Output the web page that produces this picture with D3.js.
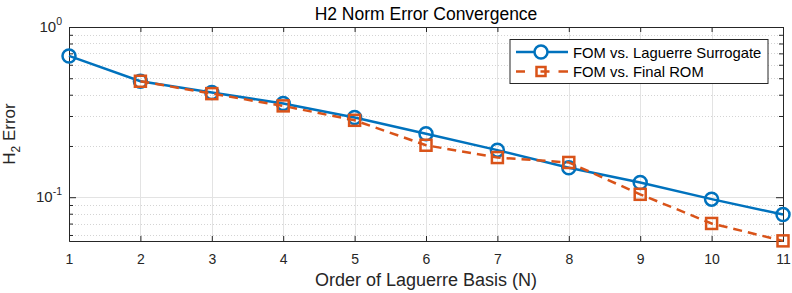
<!DOCTYPE html>
<html>
<head>
<meta charset="utf-8">
<script src="https://cdn.jsdelivr.net/npm/d3@7"></script>
<style>
  body { margin: 0; background: #fff; }
  svg { font-family: "Liberation Sans", Arial, sans-serif; }
</style>
</head>
<body>
<div id="chart"></div>
<script>
var orders = [1, 2, 3, 4, 5, 6, 7, 8, 9, 10, 11];
var surrogateErr = [0.676, 0.480, 0.412, 0.355, 0.294, 0.236, 0.189, 0.149, 0.122, 0.0974, 0.0791];
var romOrders = [2, 3, 4, 5, 6, 7, 8, 9, 10, 11];
var romErr = [0.480, 0.406, 0.344, 0.283, 0.202, 0.171, 0.160, 0.104, 0.0701, 0.0554];
var seriesNames = ["FOM vs. Laguerre Surrogate", "FOM vs. Final ROM"];

var margin = { top: 27, left: 69, right: 9, bottom: 52 },
  width = 792 - margin.left - margin.right,
  height = 293 - margin.top - margin.bottom;

var blue = "#0072BD", orange = "#D95319", axisCol = "#262626";

var svg = d3.select("#chart").append("svg")
  .attr("width", 792).attr("height", 293)
  .append("g")
  .attr("transform", "translate(" + margin.left + "," + margin.top + ")");

var x = d3.scaleLinear().domain([1, 11]).range([0, width]);
var y = d3.scaleLog().domain([0.0553, 1]).range([height, 0]);

var minorTicks = [0.06, 0.07, 0.08, 0.09, 0.2, 0.3, 0.4, 0.5, 0.6, 0.7, 0.8, 0.9];
var majorTicks = [0.1, 1];

// grid
svg.selectAll(".minor-grid").data(minorTicks).enter().append("line")
  .attr("x1", 0).attr("x2", width)
  .attr("y1", function(d) { return Math.round(y(d)) + 0.5; }).attr("y2", function(d) { return Math.round(y(d)) + 0.5; })
  .attr("stroke", "#d4d4d4").attr("stroke-dasharray", "1,2").attr("stroke-width", 1);
svg.selectAll(".major-grid").data([0.1]).enter().append("line")
  .attr("x1", 0).attr("x2", width)
  .attr("y1", function(d) { return Math.round(y(d)) + 0.5; }).attr("y2", function(d) { return Math.round(y(d)) + 0.5; })
  .attr("stroke", "#e3e3e3").attr("stroke-width", 1);
svg.selectAll(".x-grid").data(orders.slice(1, -1)).enter().append("line")
  .attr("x1", function(d) { return Math.round(x(d)) + 0.5; }).attr("x2", function(d) { return Math.round(x(d)) + 0.5; })
  .attr("y1", 0).attr("y2", height)
  .attr("stroke", "#e3e3e3").attr("stroke-width", 1);

// axes
var xAxis = d3.axisBottom(x).tickValues(orders).tickFormat(d3.format("d")).tickSizeInner(-5).tickSizeOuter(0).tickPadding(13);
var xTop = d3.axisTop(x).tickValues(orders).tickFormat("").tickSizeInner(-5).tickSizeOuter(0);
var yAxis = d3.axisLeft(y).tickValues(majorTicks).tickFormat("").tickSizeInner(-7).tickSizeOuter(0);
var yMinor = d3.axisLeft(y).tickValues(minorTicks).tickFormat("").tickSizeInner(-4).tickSizeOuter(0);
var yRight = d3.axisRight(y).tickValues(majorTicks).tickFormat("").tickSizeInner(-7).tickSizeOuter(0);
var yRightMinor = d3.axisRight(y).tickValues(minorTicks).tickFormat("").tickSizeInner(-4).tickSizeOuter(0);

function styleAxis(g) {
  g.select(".domain").attr("stroke", axisCol);
  g.selectAll(".tick line").attr("stroke", axisCol);
  g.selectAll("text").attr("fill", axisCol).style("font-size", "14px").style("font-family", "Liberation Sans, Arial, sans-serif");
}

svg.append("g").attr("transform", "translate(0," + height + ")").call(xAxis).call(styleAxis);
svg.append("g").call(xTop).call(styleAxis);
svg.append("g").call(yAxis).call(styleAxis);
svg.append("g").call(yMinor).call(styleAxis);
svg.append("g").attr("transform", "translate(" + width + ",0)").call(yRight).call(styleAxis);
svg.append("g").attr("transform", "translate(" + width + ",0)").call(yRightMinor).call(styleAxis);

// y tick labels with exponents
var ylab = svg.selectAll(".ylab").data(majorTicks).enter().append("text")
  .attr("x", -7).attr("y", function(d) { return y(d) + 5; })
  .attr("text-anchor", "end").attr("fill", axisCol).style("font-size", "15px");
ylab.append("tspan").text("10");
ylab.append("tspan").attr("dy", -7).style("font-size", "10.5px").text(function(d) { return Math.round(Math.log10(d)); });

// lines
var line1 = d3.line().x(function(d, i) { return x(orders[i]); }).y(function(d) { return y(d); });
var line2 = d3.line().x(function(d, i) { return x(romOrders[i]); }).y(function(d) { return y(d); });

svg.append("path").datum(surrogateErr).attr("d", line1)
  .attr("fill", "none").attr("stroke", blue).attr("stroke-width", 2.5);
svg.selectAll(".circ").data(surrogateErr).enter().append("circle")
  .attr("cx", function(d, i) { return x(orders[i]); }).attr("cy", function(d) { return y(d); })
  .attr("r", 6.5).attr("fill", "none").attr("stroke", blue).attr("stroke-width", 2.5);

svg.append("path").datum(romErr).attr("d", line2)
  .attr("fill", "none").attr("stroke", orange).attr("stroke-width", 2.5).attr("stroke-dasharray", "9,6");
svg.selectAll(".sq").data(romErr).enter().append("rect")
  .attr("x", function(d, i) { return x(romOrders[i]) - 5.5; }).attr("y", function(d) { return y(d) - 5.5; })
  .attr("width", 11).attr("height", 11).attr("fill", "none").attr("stroke", orange).attr("stroke-width", 2.5);

// title & labels
svg.append("text").attr("x", width / 2).attr("y", -7).attr("text-anchor", "middle")
  .attr("fill", "#000").style("font-size", "17.5px").text("H2 Norm Error Convergence");
svg.append("text").attr("x", width / 2).attr("y", height + 45).attr("text-anchor", "middle")
  .attr("fill", axisCol).style("font-size", "18px").text("Order of Laguerre Basis (N)");
var yt = svg.append("text").attr("transform", "translate(-54," + (height / 2) + ") rotate(-90)")
  .attr("text-anchor", "middle").attr("fill", axisCol).style("font-size", "17px");
yt.append("tspan").text("H");
yt.append("tspan").attr("dy", 5).style("font-size", "12px").text("2");
yt.append("tspan").attr("dy", -5).text(" Error");

// legend
var lg = svg.append("g").attr("transform", "translate(" + (510 - margin.left) + "," + (39.5 - margin.top) + ")");
lg.append("rect").attr("width", 258).attr("height", 44).attr("fill", "#fff").attr("stroke", axisCol).attr("stroke-width", 1);
var rows = lg.selectAll(".row").data(seriesNames).enter().append("g")
  .attr("transform", function(d, i) { return "translate(0," + (12.5 + i * 19.5) + ")"; });
rows.append("line").attr("x1", 6).attr("x2", 58).attr("y1", 0).attr("y2", 0)
  .attr("stroke", function(d, i) { return i === 0 ? blue : orange; })
  .attr("stroke-width", 2.5)
  .attr("stroke-dasharray", function(d, i) { return i === 0 ? null : "9,15.5,9"; });
rows.filter(function(d, i) { return i === 0; }).append("circle")
  .attr("cx", 31).attr("cy", 0).attr("r", 6.5).attr("fill", "#fff").attr("stroke", blue).attr("stroke-width", 2.5);
rows.filter(function(d, i) { return i === 1; }).append("rect")
  .attr("x", 26.5).attr("y", -4.5).attr("width", 9).attr("height", 9).attr("fill", "none").attr("stroke", orange).attr("stroke-width", 2.5);
rows.append("text").attr("x", 63).attr("y", 5.5).attr("fill", "#000").style("font-size", "14.8px").text(function(d) { return d; });
</script>
</body>
</html>
